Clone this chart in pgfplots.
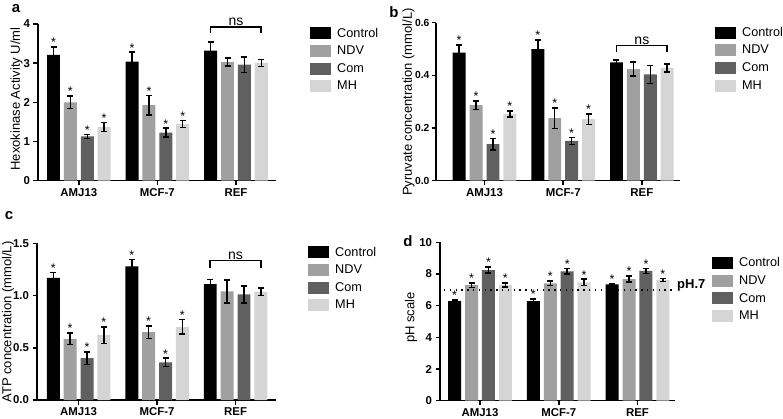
\documentclass[border=0pt]{standalone}
\usepackage{fontspec}
\setmainfont{Liberation Sans}
\usepackage{pgfplots}
\usepackage{pgfplotstable}
\pgfplotsset{compat=1.18}
\definecolor{cC}{RGB}{0,0,0}
\definecolor{cN}{RGB}{160,160,160}
\definecolor{cM}{RGB}{96,96,96}
\definecolor{cH}{RGB}{213,213,213}

% columns: Control (c), NDV (n), Com (m), MH (h); e = error
\pgfplotstableread{
x c ce n ne m me h he
0 3.21 0.20 2.00 0.16 1.13 0.05 1.37 0.11
1 3.04 0.24 1.93 0.25 1.23 0.11 1.45 0.09
2 3.32 0.22 3.03 0.10 2.96 0.20 3.01 0.09
}\hexo
\pgfplotstableread{
x c ce n ne m me h he
0 0.486 0.029 0.287 0.016 0.139 0.022 0.253 0.012
1 0.500 0.034 0.238 0.039 0.151 0.014 0.234 0.020
2 0.449 0.010 0.424 0.027 0.404 0.034 0.428 0.016
}\pyru
\pgfplotstableread{
x c ce n ne m me h he
0 1.17 0.050 0.585 0.055 0.40 0.060 0.62 0.080
1 1.28 0.065 0.650 0.060 0.36 0.040 0.70 0.070
2 1.11 0.045 1.040 0.110 1.01 0.080 1.035 0.035
}\atp
\pgfplotstableread{
x c ce n ne m me h he
0 6.29 0.06 7.30 0.14 8.25 0.20 7.30 0.12
1 6.29 0.13 7.41 0.14 8.17 0.17 7.47 0.20
2 7.35 0.03 7.68 0.18 8.19 0.16 7.62 0.10
}\ph

\pgfplotsset{
 panel/.style={
  scale only axis, anchor=south west, clip=false,
  ybar, bar width=0.165, enlargelimits=false,
  axis x line=bottom, axis y line=left,
  axis line style={black, line width=1.5pt, -},
  xtick={0,1,2}, xticklabels={AMJ13,MCF-7,REF},
  tick align=outside, major tick length=4.5pt,
  tick style={black, line width=1.5pt},
  ticklabel style={font=\fontsize{11.4}{13}\selectfont\bfseries},
  /pgf/number format/assume math mode=true,
  ymin=0,
  legend style={draw=none, fill=none, inner sep=0pt, row sep=5.7pt, column sep=6pt,
    font=\fontsize{12.7}{14}\selectfont, anchor=north west, nodes={inner sep=0pt}},
  legend cell align=left,
  legend image code/.code={\path[#1, draw=none] (0pt,-6pt) rectangle (21pt,6pt);},
 },
 errs/.style={error bars/.cd, y dir=both, y explicit,
   error bar style={black, line width=1.5pt},
   error mark options={rotate=90, black, line width=1.5pt, mark size=3pt}},
 star/.style={draw=none, fill=none, forget plot, nodes near coords={*},
   every node near coord/.append style={font=\fontsize{12.5}{12.5}\selectfont, text=black, inner sep=0pt}},
}
\newcommand{\groupbars}[1]{%
 \addplot[fill=cC, draw=none, bar shift=-0.3225, errs] table[x=x, y=c, y error=ce] {#1};
 \addplot[fill=cN, draw=none, bar shift=-0.1075, errs] table[x=x, y=n, y error=ne] {#1};
 \addplot[fill=cM, draw=none, bar shift=0.1075, errs] table[x=x, y=m, y error=me] {#1};
 \addplot[fill=cH, draw=none, bar shift=0.3225, errs] table[x=x, y=h, y error=he] {#1};
}
\newcommand{\groupstars}[2]{%
 \addplot[star, bar shift=-0.3225, #2] table[x=x, y expr=\thisrow{c}+\thisrow{ce}] {#1};
 \addplot[star, bar shift=-0.1075, #2] table[x=x, y expr=\thisrow{n}+\thisrow{ne}] {#1};
 \addplot[star, bar shift=0.1075, #2] table[x=x, y expr=\thisrow{m}+\thisrow{me}] {#1};
 \addplot[star, bar shift=0.3225, #2] table[x=x, y expr=\thisrow{h}+\thisrow{he}] {#1};
}
\tikzset{ylab/.style={rotate=90, font=\fontsize{13}{15}\selectfont, anchor=center, inner sep=0pt}}

\begin{document}
\begin{tikzpicture}
\useasboundingbox (0pt,0pt) rectangle (783pt,418pt);

% ---- a ----
\begin{axis}[panel, at={(38pt,237.3pt)}, width=238pt, height=156.7pt,
  xmin=-0.52, xmax=2.51, ymax=4, ytick={0,1,2,3,4},
  legend style={at={(1.143,0.981)}}]
\groupbars{\hexo}
\groupstars{\hexo}{skip coords between index={2}{3}}
\addplot[sharp plot, mark=none, black, line width=1.6pt, forget plot]
  coordinates {(1.6775,3.76) (1.6775,3.93) (2.3225,3.93) (2.3225,3.76)};
\node[font=\fontsize{14}{14}\selectfont, anchor=south, inner sep=1pt] at (axis cs:2,3.93) {ns};
\legend{Control,NDV,Com,MH}
\end{axis}

% ---- b ----
\begin{axis}[panel, at={(436pt,237.3pt)}, width=244pt, height=158pt,
  xmin=-0.617, xmax=2.485, ymax=0.6, ytick={0,0.2,0.4,0.6},
  yticklabel style={font=\fontsize{10.3}{12}\selectfont\bfseries, xshift=1.5pt,
    /pgf/number format/.cd, fixed, fixed zerofill, precision=1},
  legend style={at={(1.143,0.977)}}]
\groupbars{\pyru}
\groupstars{\pyru}{skip coords between index={2}{3}}
\addplot[sharp plot, mark=none, black, line width=1.6pt, forget plot]
  coordinates {(1.6775,0.487) (1.6775,0.513) (2.3225,0.513) (2.3225,0.487)};
\node[font=\fontsize{14}{14}\selectfont, anchor=south, inner sep=1pt] at (axis cs:2,0.513) {ns};
\legend{Control,NDV,Com,MH}
\end{axis}

% ---- c ----
\begin{axis}[panel, at={(37pt,18pt)}, width=239pt, height=156.7pt,
  xmin=-0.53, xmax=2.515, ymax=1.5, ytick={0,0.5,1,1.5},
  yticklabel style={/pgf/number format/.cd, fixed, fixed zerofill, precision=1},
  legend style={at={(1.134,0.983)}}]
\groupbars{\atp}
\groupstars{\atp}{skip coords between index={2}{3}}
\addplot[sharp plot, mark=none, black, line width=1.6pt, forget plot]
  coordinates {(1.6775,1.265) (1.6775,1.335) (2.3225,1.335) (2.3225,1.265)};
\node[font=\fontsize{14}{14}\selectfont, anchor=south, inner sep=1pt] at (axis cs:2,1.335) {ns};
\legend{Control,NDV,Com,MH}
\end{axis}

% ---- d ----
\begin{axis}[panel, at={(440pt,17.3pt)}, width=235pt, height=158.4pt,
  xmin=-0.508, xmax=2.476, ymax=10, ytick={0,2,4,6,8,10},
  legend style={at={(1.157,0.909)}}]
\groupbars{\ph}
\groupstars{\ph}{}
\addplot[sharp plot, mark=none, black, line width=1.4pt, dash pattern=on 1.4pt off 4.4pt, forget plot]
  coordinates {(-0.457,7) (2.476,7)};
\node[font=\fontsize{13}{13}\selectfont\bfseries, anchor=west, inner sep=0pt, xshift=2pt, yshift=4pt] at (axis cs:2.476,7) {pH.7};
\legend{Control,NDV,Com,MH}
\end{axis}

% y axis titles
\node[ylab] at (16.5pt,319pt) {Hexokinase Activity U/ml};
\node[ylab] at (408.5pt,316pt) {Pyruvate concentration (mmol/L)};
\node[ylab] at (8pt,96pt) {ATP concentration (mmol/L)};
\node[ylab] at (411pt,100.5pt) {pH scale};

% panel letters
\node[font=\fontsize{15}{15}\selectfont\bfseries] at (16pt,409pt) {a};
\node[font=\fontsize{15}{15}\selectfont\bfseries] at (394pt,406pt) {b};
\node[font=\fontsize{15}{15}\selectfont\bfseries] at (9pt,202pt) {c};
\node[font=\fontsize{15}{15}\selectfont\bfseries] at (408pt,177pt) {d};
\end{tikzpicture}
\end{document}
